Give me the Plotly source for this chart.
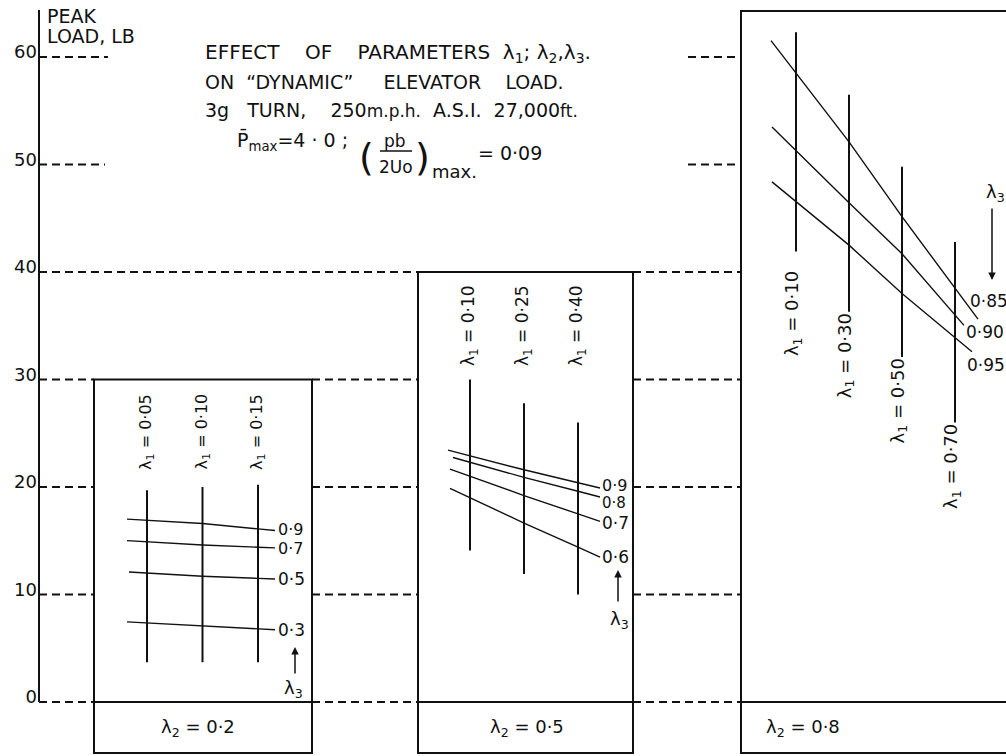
import plotly.graph_objects as go

W, H = 1006, 756
FONT = "DejaVu Sans"
INK = "#111111"

# ---------------------------------------------------------------- data
y_tickvals = [0, 10, 20, 30, 40, 50, 60]
y_ticktext = ["0", "10", "20", "30", "40", "50", "60"]

# λ2 = 0·2
p1_lambda2 = "0·2"
p1_lambda1 = [0.05, 0.10, 0.15]
p1_lambda1_text = ["0·05", "0·10", "0·15"]
p1_range_top = [19.7, 20.0, 20.2]
p1_range_bottom = [3.7, 3.7, 3.7]
p1_lambda3_text = ["0·9", "0·7", "0·5", "0·3"]
p1_load = [
    [16.9, 16.6, 16.1],
    [14.9, 14.6, 14.4],
    [12.0, 11.7, 11.5],
    [7.35, 7.05, 6.8],
]

# λ2 = 0·5
p2_lambda2 = "0·5"
p2_lambda1 = [0.10, 0.25, 0.40]
p2_lambda1_text = ["0·10", "0·25", "0·40"]
p2_range_top = [30.0, 27.8, 26.0]
p2_range_bottom = [14.1, 11.9, 10.0]
p2_lambda3_text = ["0·9", "0·8", "0·7", "0·6"]
p2_load = [
    [22.9, 21.6, 20.4],
    [22.3, 20.9, 19.6],
    [21.0, 19.2, 17.5],
    [19.0, 16.65, 14.4],
]

# λ2 = 0·8
p3_lambda2 = "0·8"
p3_lambda1 = [0.10, 0.30, 0.50, 0.70]
p3_lambda1_text = ["0·10", "0·30", "0·50", "0·70"]
p3_range_top = [62.3, 56.5, 49.8, 42.8]
p3_range_bottom = [41.9, 36.3, 32.1, 26.0]
p3_lambda3_text = ["0·85", "0·90", "0·95"]
p3_load = [
    [58.5, 52.1, 45.15, 38.5],
    [51.3, 46.45, 41.7, 36.0],
    [46.55, 42.5, 38.0, 33.9],
]

# ---------------------------------------------------------------- sheet geometry (pixels)
Y0_PX, PX_PER_UNIT = 702, 10.75
AXIS_X = 39


def y_of(py):
    return (Y0_PX - py) / PX_PER_UNIT


def px(x):
    return x / W


def py(y):
    return 1 - y / H


BOX_BOTTOM = y_of(753)

panels = [
    dict(axis="x", lam2=p1_lambda2, lam1=p1_lambda1, lam1_text=p1_lambda1_text,
         top_v=p1_range_top, bot_v=p1_range_bottom, lam3=p1_lambda3_text, load=p1_load,
         left=94, right=312, box_top=30.0, line_px=(147, 258),
         start_px=[127, 127, 129, 127], end_px=[275, 275, 275, 275],
         lab_shift=[(1, 1), (1, -1), (1, 0), (1, 0)], lab_size=[16, 16, 17, 17],
         lam1_label=dict(mode="center", y=y_of(432), shift=[0, 0, 0], xshift=-1, size=16),
         lam2_x=198,
         lam3_text=(293, 689), lam3_arrow=(295, 647, 675)),
    dict(axis="x2", lam2=p2_lambda2, lam1=p2_lambda1, lam1_text=p2_lambda1_text,
         top_v=p2_range_top, bot_v=p2_range_bottom, lam3=p2_lambda3_text, load=p2_load,
         left=418, right=633, box_top=40.0, line_px=(470, 578),
         start_px=[448, 453, 450, 450], end_px=[600, 600, 600, 600],
         lab_shift=[(0, 2), (0, -6), (0, -2), (0, 0)], lab_size=[16, 15, 17, 17],
         lam1_label=dict(mode="center", y=y_of(326), shift=[0, 0, 0], xshift=-1, size=17),
         lam2_x=527,
         lam3_text=(619, 620), lam3_arrow=(618, 570, 603)),
    dict(axis="x3", lam2=p3_lambda2, lam1=p3_lambda1, lam1_text=p3_lambda1_text,
         top_v=p3_range_top, bot_v=p3_range_bottom, lam3=p3_lambda3_text, load=p3_load,
         left=741, right=W, box_top=y_of(11), line_px=(796, 955),
         start_px=[771, 772, 772], end_px=[978, 964, 972],
         lab_shift=[(-10, 18), (0, -7), (-7, -13)], lab_size=[17, 17, 17],
         lam1_label=dict(mode="top", shift=[-18, 0, 0, 0], xshift=-3, size=18),
         lam2_x=803,
         lam3_text=(995, 193), lam3_arrow=(992, 280, 207)),
]

fig = go.Figure()
shapes = []
annotations = []
layout_axes = {}

dash_style = dict(color=INK, width=1.8, dash="8px,5px")

for p in panels:
    lam = p["lam1"]
    k = (lam[-1] - lam[0]) / (p["line_px"][1] - p["line_px"][0])

    def lam_at(x, lam=lam, k=k, p=p):
        return lam[0] + (x - p["line_px"][0]) * k

    ax_name = "xaxis" if p["axis"] == "x" else "xaxis" + p["axis"][1:]
    layout_axes[ax_name] = dict(
        domain=[px(p["left"]), px(p["right"])],
        range=[lam_at(p["left"]), lam_at(p["right"])],
        visible=False, anchor="y", fixedrange=True,
    )

    # panel frame and the strip holding the λ2 caption
    right_edge = px(p["right"]) if p["right"] < W else 1.05
    shapes.append(dict(type="rect", xref="paper", yref="y",
                       x0=px(p["left"]), x1=right_edge, y0=BOX_BOTTOM, y1=p["box_top"],
                       line=dict(color=INK, width=2)))
    shapes.append(dict(type="line", xref="paper", yref="y",
                       x0=px(p["left"]), x1=right_edge, y0=0, y1=0,
                       line=dict(color=INK, width=2)))

    # λ1 stations: vertical load bands
    xs, ys = [], []
    for l1, lo, hi in zip(lam, p["bot_v"], p["top_v"]):
        xs += [l1, l1, None]
        ys += [lo, hi, None]
    fig.add_trace(go.Scatter(x=xs, y=ys, xaxis=p["axis"], yaxis="y", mode="lines",
                             line=dict(color=INK, width=2), hoverinfo="skip",
                             showlegend=False))

    # λ3 lines across the stations
    for i, (name, loads) in enumerate(zip(p["lam3"], p["load"])):
        xa, xb = lam_at(p["start_px"][i]), lam_at(p["end_px"][i])
        s0 = (loads[1] - loads[0]) / (lam[1] - lam[0])
        s1 = (loads[-1] - loads[-2]) / (lam[-1] - lam[-2])
        ya = loads[0] + (xa - lam[0]) * s0
        yb = loads[-1] + (xb - lam[-1]) * s1
        fig.add_trace(go.Scatter(x=[xa] + lam + [xb], y=[ya] + loads + [yb],
                                 xaxis=p["axis"], yaxis="y", mode="lines",
                                 line=dict(color=INK, width=1.4), hoverinfo="skip",
                                 showlegend=False, name="λ3 = " + name))
        dx, dy = p["lab_shift"][i]
        annotations.append(dict(x=xb, y=yb, xref=p["axis"], yref="y", text=name,
                                showarrow=False, xanchor="left", yanchor="middle",
                                xshift=dx, yshift=dy,
                                font=dict(family=FONT, size=p["lab_size"][i], color=INK)))

    # rotated λ1 captions
    cfg = p["lam1_label"]
    for j, (l1, txt) in enumerate(zip(lam, p["lam1_text"])):
        if cfg["mode"] == "center":
            yy, ya = cfg["y"], "middle"
        else:
            yy, ya = p["bot_v"][j], "top"
        annotations.append(dict(x=l1, y=yy, xref=p["axis"], yref="y",
                                text="λ<sub>1</sub>\u00a0=\u00a0" + txt, textangle=-90,
                                showarrow=False, xanchor="center", yanchor=ya,
                                xshift=cfg["xshift"], yshift=cfg["shift"][j],
                                font=dict(family=FONT, size=cfg["size"], color=INK)))

    # λ2 caption in the lower strip
    annotations.append(dict(x=px(p["lam2_x"]), y=y_of(728), xref="paper", yref="y",
                            text="λ<sub>2</sub>\u00a0=\u00a0" + p["lam2"], showarrow=False,
                            xanchor="center", yanchor="middle",
                            font=dict(family=FONT, size=18, color=INK)))

    # λ3 direction marker
    tx, ty = p["lam3_text"]
    annotations.append(dict(x=px(tx), y=y_of(ty), xref="paper", yref="y",
                            text="λ<sub>3</sub>", showarrow=False,
                            xanchor="center", yanchor="middle",
                            font=dict(family=FONT, size=18, color=INK)))
    axx, head, tail = p["lam3_arrow"]
    annotations.append(dict(x=px(axx), y=y_of(head), xref="paper", yref="y",
                            ax=0, ay=tail - head, axref="pixel", ayref="pixel",
                            text="", showarrow=True, arrowhead=2, arrowsize=1,
                            arrowwidth=1.5, arrowcolor=INK))

# dashed load levels between the panels
def blocked(v):
    out = []
    for p in panels:
        if v == 0 or v <= p["box_top"]:
            out.append((p["left"], p["right"] if p["right"] < W else W + 40))
    return sorted(out)


upper_stubs = {50: [(AXIS_X, 105), (688, 741)], 60: [(AXIS_X, 108), (688, 741)]}
for v in y_tickvals:
    if v in upper_stubs:
        segs = upper_stubs[v]
    else:
        segs, x = [], AXIS_X
        for a, b in blocked(v):
            if a > x:
                segs.append((x, a))
            x = max(x, b)
        if x < W:
            segs.append((x, W))
    for a, b in segs:
        shapes.append(dict(type="line", xref="paper", yref="y", x0=px(a), x1=px(b),
                           y0=v, y1=v, line=dash_style))

# load axis
shapes.append(dict(type="line", xref="paper", yref="y", x0=px(AXIS_X), x1=px(AXIS_X),
                   y0=0, y1=y_of(10), line=dict(color=INK, width=2)))
for i, t in enumerate(["PEAK", "LOAD, LB"]):
    annotations.append(dict(x=px(45), y=py(16 + 19.5 * i), xref="paper", yref="paper",
                            text=t, showarrow=False, xanchor="left", yanchor="middle",
                            font=dict(family=FONT, size=19, color=INK)))

# heading block
S = "\u00a0"
small = "<span style='font-size:17px'>{}</span>"
title_lines = [
    ("EFFECT" + S * 4 + "OF" + S * 4 + "PARAMETERS" + S * 2 +
     "λ<sub>1</sub>;" + S + "λ<sub>2</sub>,λ<sub>3</sub>.", 203, 53, 20),
    ("ON" + S * 2 + "\u201cDYNAMIC\u201d" + S * 5 + "ELEVATOR" + S * 4 + "LOAD.",
     203, 82, 19),
    ("3g" + S * 3 + "TURN," + S * 4 + "250" + small.format("m.p.h.") + S * 2 + "A.S.I." +
     S * 2 + "27,000" + small.format("ft."), 203, 110, 19),
    ("P\u0304<sub>max</sub>=4" + S + "·" + S + "0" + S + ";", 235, 141, 19),
]
for t, x, y, s in title_lines:
    annotations.append(dict(x=px(x), y=py(y), xref="paper", yref="paper", text=t,
                            showarrow=False, xanchor="left", yanchor="middle",
                            font=dict(family=FONT, size=s, color=INK)))

# (pb / 2Uo)max = 0·09
frac_parts = [
    ("(", 366, 157, 38, "center"),
    ("pb", 395, 141, 17, "center"),
    ("2Uo", 396, 167, 17, "center"),
    (")", 422, 157, 38, "center"),
    ("max.", 430, 172, 18, "left"),
    ("=" + S + "0·09", 476, 153, 19, "left"),
]
for t, x, y, s, xa in frac_parts:
    annotations.append(dict(x=px(x), y=py(y), xref="paper", yref="paper", text=t,
                            showarrow=False, xanchor=xa, yanchor="middle",
                            font=dict(family=FONT, size=s, color=INK)))
shapes.append(dict(type="line", xref="paper", yref="paper", x0=px(380), x1=px(412),
                   y0=py(151), y1=py(151), line=dict(color=INK, width=1.5)))

fig.update_layout(
    width=W, height=H,
    margin=dict(l=0, r=0, t=0, b=0),
    paper_bgcolor="white", plot_bgcolor="white",
    showlegend=False,
    shapes=shapes,
    annotations=annotations,
    yaxis=dict(range=[y_of(H), y_of(0)], anchor="free", position=px(AXIS_X),
               tickvals=y_tickvals, ticktext=y_ticktext, ticks="",
               showgrid=False, zeroline=False, showline=False, fixedrange=True,
               ticklabelshift=-5, ticklabelstandoff=2,
               tickfont=dict(family=FONT, size=18, color=INK)),
    **layout_axes,
)

fig.write_html("out.html")
